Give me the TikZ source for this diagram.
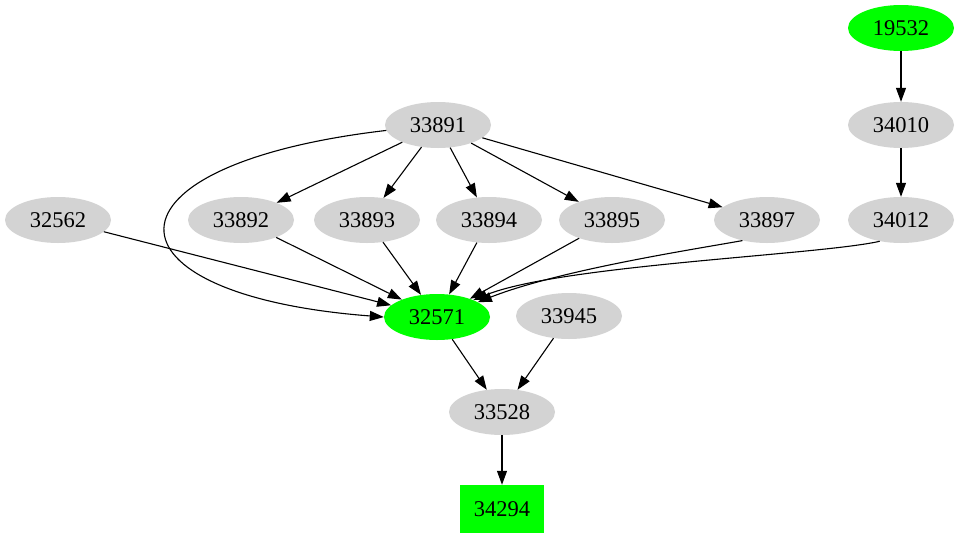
\documentclass[tikz,border=0pt]{standalone}
\usepackage{fontspec}
\setmainfont{Liberation Serif}
\usetikzlibrary{arrows.meta,shapes.geometric}
\definecolor{nodegrey}{RGB}{211,211,211}
\definecolor{hitgreen}{RGB}{0,255,0}

\begin{document}
\begin{tikzpicture}[
    x=1pt, y=1pt,
    font=\fontsize{22.5}{26}\selectfont,
    gnode/.style={ellipse, fill=nodegrey, minimum width=106pt, minimum height=46pt, inner sep=0pt},
    hit/.style={gnode, fill=hitgreen},
    target/.style={rectangle, fill=hitgreen, minimum width=84pt, minimum height=48pt, inner sep=0pt},
    arrow/.style={-{Triangle[length=14pt,width=10pt]}, line width=1.1pt}
  ]
    \useasboundingbox (0,0) rectangle (959,-539);
    \node[hit] (n19532) at (901,-28) {19532};
    \node[gnode] (n33891) at (438,-125) {33891};
    \node[gnode] (n34010) at (901,-125) {34010};
    \node[gnode] (n32562) at (58,-220) {32562};
    \node[gnode] (n33892) at (241,-220) {33892};
    \node[gnode] (n33893) at (367,-220) {33893};
    \node[gnode] (n33894) at (489,-220) {33894};
    \node[gnode] (n33895) at (612,-220) {33895};
    \node[gnode] (n33897) at (767,-220) {33897};
    \node[gnode] (n34012) at (901,-220) {34012};
    \node[hit] (n32571) at (437,-317) {32571};
    \node[gnode] (n33945) at (569,-316) {33945};
    \node[gnode] (n33528) at (502,-412) {33528};
    \node[target] (n34294) at (502,-509) {34294};

    \draw[arrow] (n19532) -- (n34010);
    \draw[arrow] (n34010) -- (n34012);
    \draw[arrow] (n33891) -- (n33892);
    \draw[arrow] (n33891) -- (n33893);
    \draw[arrow] (n33891) -- (n33894);
    \draw[arrow] (n33891) -- (n33895);
    \draw[arrow] (n33891) -- (n33897);
    \draw[arrow] (n33891.186) .. controls (90,-165) and (95,-295) .. (n32571.west);
    \draw[arrow] (n32562) -- (n32571);
    \draw[arrow] (n33892) -- (n32571);
    \draw[arrow] (n33893) -- (n32571);
    \draw[arrow] (n33894) -- (n32571);
    \draw[arrow] (n33895) -- (n32571);
    \draw[arrow] (n33897.220) .. controls (690,-250) and (560,-270) .. (n32571.20);
    \draw[arrow] (n34012.225) .. controls (820,-255) and (560,-265) .. (n32571.25);
    \draw[arrow] (n32571) -- (n33528);
    \draw[arrow] (n33945) -- (n33528);
    \draw[arrow] (n33528) -- (n34294);
  \end{tikzpicture}
\end{document}
